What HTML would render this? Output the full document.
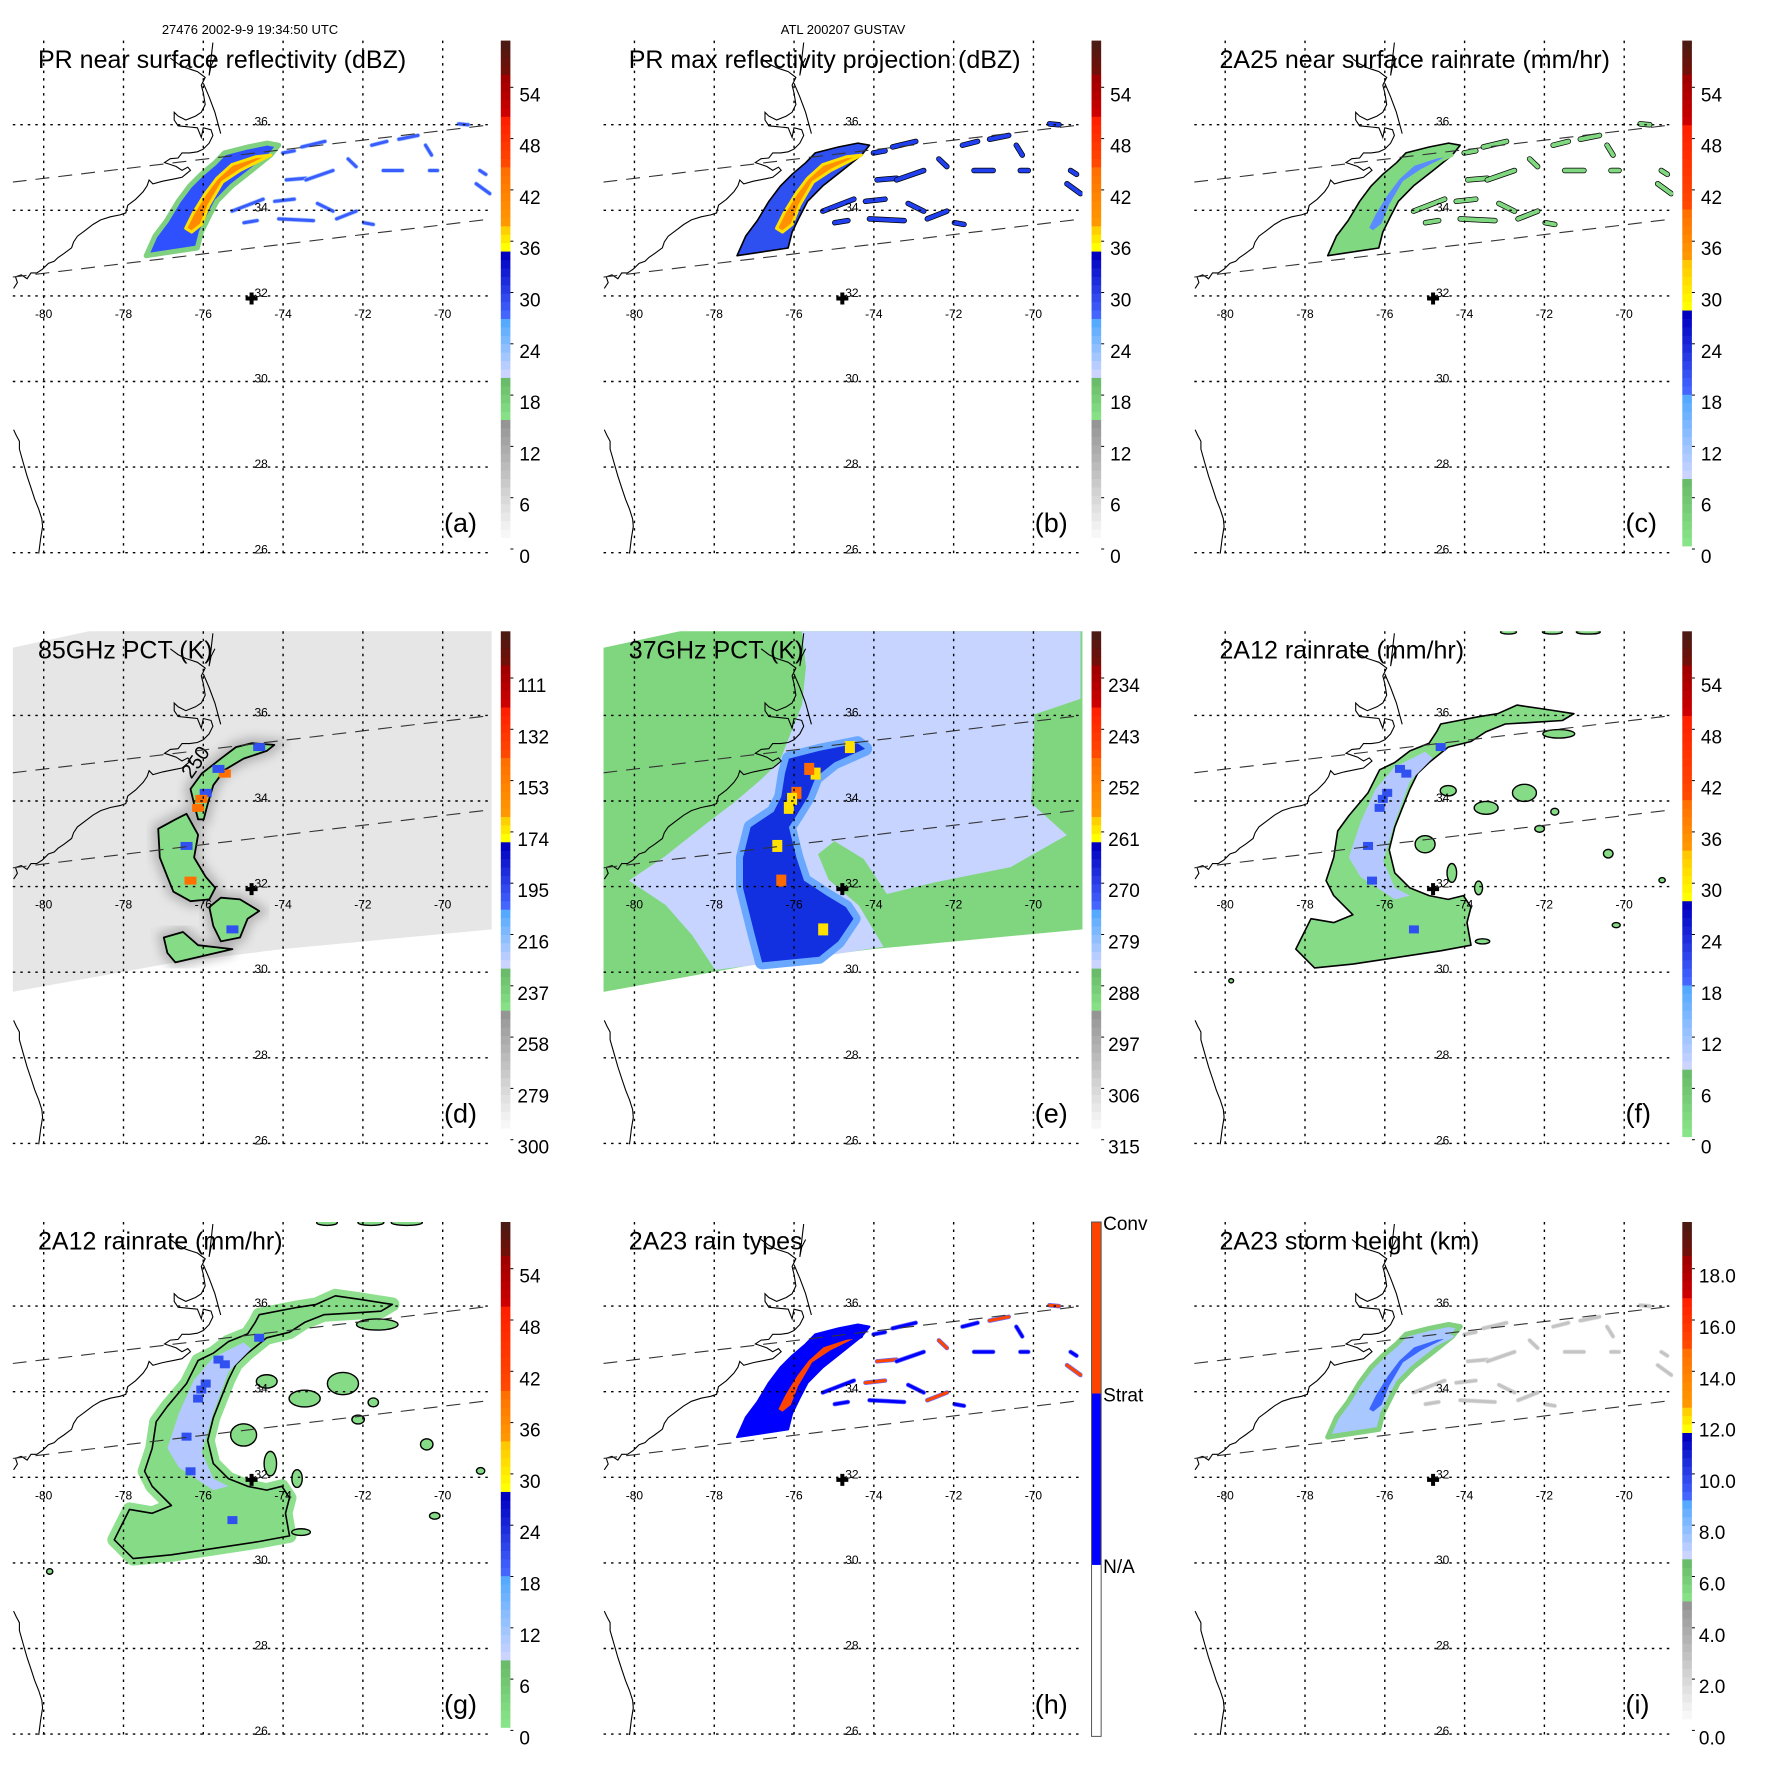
<!DOCTYPE html>
<html><head><meta charset="utf-8"><title>Gustav TRMM overpass</title>
<style>
html,body{margin:0;padding:0;background:#fff;}
svg{display:block;font-family:"Liberation Sans",Arial,sans-serif;}
</style></head>
<body>
<svg id="fig" width="1771" height="1771" viewBox="0 0 1771 1771" xmlns="http://www.w3.org/2000/svg">
<rect x="0" y="0" width="1771" height="1771" fill="#fff"/>
<defs>
<filter id="blur6" x="-20%" y="-20%" width="140%" height="140%"><feGaussianBlur stdDeviation="5"/></filter>
</defs>
<text x="250" y="34" font-size="13" text-anchor="middle">27476 2002-9-9 19:34:50 UTC</text>
<text x="843" y="34" font-size="13" text-anchor="middle">ATL 200207 GUSTAV</text>
</svg>
<script>
// ---------- data ----------
const lonTicks=[-80,-78,-76,-74,-72,-70];
const latTicks=[26,28,30,32,34,36];
const dbzTicks=['0','6','12','18','24','30','36','42','48','54'];
const rainTicks=['0','6','12','18','24','30','36','42','48','54'];
const pct85Ticks=['300','279','258','237','216','195','174','153','132','111'];
const pct37Ticks=['315','306','297','288','279','270','261','252','243','234'];
const heightTicks=['0.0','2.0','4.0','6.0','8.0','10.0','12.0','14.0','16.0','18.0'];
const typeLabels=['N/A','Strat','Conv'];
const stormCenter=[-74.79,31.94];
const prSwathUpper=[[-80.78,34.66],[-68.77,36.0]];
const prSwathLower=[[-80.78,32.44],[-68.77,33.80]];
const prBand=[[-77.43,32.94],[-76.15,33.12],[-76.05,33.49],[-75.86,33.85],[-75.66,34.21],[-75.28,34.57],[-74.79,34.93],[-74.31,35.29],[-74.11,35.52],[-74.40,35.57],[-74.89,35.48],[-75.47,35.34],[-75.71,35.11],[-76.05,34.84],[-76.34,34.57],[-76.63,34.21],[-76.92,33.76],[-77.21,33.40]];
const prCore=[[-76.29,33.49],[-76.05,33.67],[-75.86,34.12],[-75.52,34.66],[-75.08,34.93],[-74.50,35.20],[-74.31,35.29],[-74.69,35.25],[-75.28,35.07],[-75.66,34.75],[-75.95,34.39],[-76.25,33.94],[-76.44,33.58]];
const prStreaks=[[-73.92,34.71,-73.43,34.75],[-73.43,34.71,-72.75,34.93],[-75.28,33.98,-74.50,34.26],[-74.21,34.21,-73.72,34.26],[-73.14,34.16,-72.75,33.98],[-74.11,33.80,-73.24,33.76],[-72.66,33.80,-72.17,33.98],[-71.98,33.71,-71.74,33.67],[-71.78,35.52,-71.40,35.61],[-71.10,35.66,-70.62,35.75],[-70.43,35.52,-70.28,35.29],[-70.33,34.93,-70.13,34.93],[-69.16,34.62,-68.82,34.39],[-73.53,35.48,-72.95,35.61],[-74.01,35.34,-73.72,35.39],[-69.60,36.02,-69.36,36.0],[-69.07,34.93,-68.92,34.84],[-71.49,34.93,-71.01,34.93],[-72.37,35.20,-72.17,35.02],[-74.98,33.71,-74.65,33.76]];
const tmiSwath=[[-80.78,37.58],[-78.2,38.1],[-68.7,38.1],[-68.77,31.0],[-74.03,30.54],[-76.70,30.23],[-80.78,29.54]];
const pct85Bands=[
 [[-74.79,35.35],[-74.22,35.31],[-74.41,35.17],[-74.99,34.99],[-75.46,34.73],[-75.75,34.37],[-75.89,33.93],[-75.99,33.57],[-76.13,33.57],[-76.23,33.93],[-76.32,34.28],[-76.04,34.64],[-75.56,34.99],[-75.18,35.26]],
 [[-77.13,33.35],[-76.70,33.57],[-76.42,33.70],[-76.13,33.21],[-76.23,32.68],[-75.94,32.23],[-75.70,31.97],[-75.85,31.70],[-76.32,31.66],[-76.75,31.88],[-76.90,32.23],[-77.09,32.68]],
 [[-75.85,31.52],[-75.56,31.74],[-75.08,31.70],[-74.60,31.43],[-74.89,31.25],[-75.08,30.81],[-75.56,30.72],[-75.75,31.08]],
 [[-76.99,30.81],[-76.51,30.94],[-76.13,30.63],[-75.27,30.54],[-76.70,30.23],[-76.90,30.45]]];
const pct37Light=[[-75.75,37.93],[-68.87,37.93],[-68.87,36.42],[-70.02,36.06],[-70.11,33.93],[-69.25,33.21],[-70.59,32.50],[-72.50,32.14],[-73.65,31.88],[-74.22,32.68],[-74.99,33.12],[-75.46,32.77],[-75.18,32.14],[-74.41,31.52],[-73.84,30.63],[-75.37,30.41],[-77.95,30.10],[-78.52,30.90],[-79.19,31.61],[-80.05,32.14],[-79.19,32.68],[-78.23,33.39],[-77.47,33.93],[-76.80,34.46],[-76.32,34.90],[-76.13,35.35],[-75.75,36.24],[-75.65,37.13]];
const pct37Cold=[[-76.13,34.99],[-75.37,35.17],[-74.41,35.35],[-74.22,35.22],[-74.99,34.90],[-75.46,34.55],[-75.65,34.10],[-75.94,33.66],[-76.13,33.39],[-75.94,32.68],[-75.75,32.14],[-75.18,31.79],[-74.70,31.52],[-74.51,31.25],[-74.89,30.72],[-75.37,30.36],[-76.80,30.23],[-76.99,30.90],[-77.28,31.97],[-77.28,32.68],[-77.09,33.39],[-76.51,33.75],[-76.32,34.10],[-76.23,34.64]];
const pct37Warm=[[-74.60,35.26],[-75.46,34.64],[-75.94,34.19],[-76.13,33.84],[-76.42,32.95],[-76.32,32.14],[-75.27,31.0],[-76.05,34.05],[-75.62,34.75]];
const tmiRainBand=[[-74.60,35.80],[-73.65,35.97],[-73.17,36.04],[-72.69,36.24],[-72.02,36.15],[-71.26,36.04],[-71.55,35.88],[-72.22,35.84],[-72.98,35.80],[-73.46,35.62],[-73.84,35.39],[-74.41,35.26],[-74.89,34.90],[-75.18,34.64],[-75.37,34.28],[-75.56,33.84],[-75.75,33.39],[-75.89,32.86],[-75.75,32.32],[-75.37,31.97],[-74.89,31.79],[-74.41,31.70],[-74.03,31.79],[-73.84,31.52],[-73.94,31.16],[-73.84,30.63],[-74.60,30.50],[-76.80,30.19],[-77.76,30.10],[-78.23,30.54],[-77.85,31.25],[-77.28,31.16],[-76.80,31.34],[-77.28,31.79],[-77.47,32.14],[-77.28,32.68],[-77.18,33.30],[-76.90,33.66],[-76.42,34.19],[-76.13,34.73],[-75.75,34.90],[-75.37,35.17],[-74.89,35.35],[-74.70,35.62]];
const tmiRainInner=[[-75.75,34.80],[-74.99,35.15],[-74.80,35.0],[-75.37,34.46],[-75.75,33.50],[-76.04,32.60],[-75.75,31.97],[-75.37,31.79],[-75.75,31.70],[-76.61,32.23],[-76.90,32.68],[-76.61,33.50],[-76.23,34.28]];
const tmiRainBlobs=[[-72.50,34.19,0.30,0.20],[-73.46,33.84,0.30,0.15],[-74.99,32.99,0.25,0.20],[-74.41,34.24,0.20,0.12],[-71.64,35.57,0.40,0.10],[-74.32,32.32,0.12,0.22],[-73.65,31.97,0.10,0.16],[-72.12,33.35,0.12,0.08],[-70.40,32.77,0.12,0.10],[-71.74,33.75,0.10,0.08],[-73.55,30.72,0.18,0.06],[-72.90,37.95,0.20,0.05],[-71.80,37.95,0.25,0.05],[-70.90,37.95,0.3,0.05],[-69.05,32.15,0.08,0.06],[-70.20,31.10,0.10,0.06],[-79.85,29.80,0.06,0.05]];

// ---------- geometry helpers ----------
const NS='http://www.w3.org/2000/svg';
const svg=document.getElementById('fig');
function mk(parent,tag,attrs){const e=document.createElementNS(NS,tag);for(const k in attrs)e.setAttribute(k,attrs[k]);parent.appendChild(e);return e;}
const MAP={l:12.8,r:491.7,t:40.6,b:554};
function proj(ox,oy){return{x:lon=>ox+43.7+(lon+80)*39.9,y:lat=>oy+124.7+(36-lat)*42.8};}
function pts(P,arr){return arr.map(p=>P.x(p[0]).toFixed(1)+','+P.y(p[1]).toFixed(1)).join(' ');}
function hex(c){return[parseInt(c.slice(1,3),16),parseInt(c.slice(3,5),16),parseInt(c.slice(5,7),16)];}
function lerp(a,b,t){const A=hex(a),B=hex(b);return 'rgb('+A.map((v,i)=>Math.round(v+(B[i]-v)*t)).join(',')+')';}

const segDbz=[[0,15,'#ffffff','#959595'],[15,20,'#86e086','#6abc6a'],[20,27,'#cad4ff','#55aaff'],[27,35,'#4466ff','#0000c0'],[35,38,'#ffff00','#ffd000'],[38,45,'#ff9800','#ff7000'],[45,51,'#ff4800','#ff2000'],[51,56,'#cc0000','#a00000'],[56,60,'#701008','#4e1a14']];
const segRain=[[0,8,'#88e488','#6abc6a'],[8,18,'#cad4ff','#55aaff'],[18,28,'#4466ff','#0000c0'],[28,34,'#ffff00','#ffc800'],[34,40,'#ff9800','#ff7000'],[40,50,'#ff4800','#ff2000'],[50,56,'#cc0000','#a00000'],[56,60,'#701008','#4e1a14']];

const coast=[[35,745],[45,730],[40,715],[55,710],[70,720],[80,705],[95,705],[110,695],[125,680],[140,675],[150,665],[165,655],[185,640],[190,625],[200,610],[220,595],[240,580],[260,568],[285,560],[310,555],[325,550],[330,530],[350,515],[370,495],[380,480],[385,465],[395,475],[420,468],[450,462],[470,458],[480,450],[492,440],[485,432],[470,440],[455,430],[440,425],[425,420],[440,410],[460,408],[470,395],[490,395],[510,392],[525,385],[540,370],[550,350],[545,335],[525,330],[520,355],[510,330],[490,328],[460,325],[450,310],[450,290],[460,300],[480,310],[505,300],[520,290],[530,270],[525,240],[520,220],[530,200],[510,185],[495,180],[480,175],[460,165],[440,150]];
const coast2=[[525,215],[540,250],[555,290],[570,345]];
const coast3=[[555,150],[545,170],[540,195],[550,110]];
const florida=[[35,1110],[42,1125],[50,1140],[50,1160],[60,1195],[70,1230],[80,1260],[90,1290],[100,1315],[108,1340],[110,1360],[105,1390],[100,1430]];
function cpts(ox,oy,arr){return arr.map(p=>(ox+p[0]/2.583).toFixed(1)+','+(oy+p[1]/2.583).toFixed(1)).join(' ');}

const COLW=590.75, ROWH=590.7;
const panels=[
 {id:'a',c:0,r:0,title:'PR near surface reflectivity (dBZ)',cb:'dbz'},
 {id:'b',c:1,r:0,title:'PR max reflectivity projection (dBZ)',cb:'dbz'},
 {id:'c',c:2,r:0,title:'2A25 near surface rainrate (mm/hr)',cb:'rain'},
 {id:'d',c:0,r:1,title:'85GHz PCT (K)',cb:'p85'},
 {id:'e',c:1,r:1,title:'37GHz PCT (K)',cb:'p37'},
 {id:'f',c:2,r:1,title:'2A12 rainrate (mm/hr)',cb:'rain'},
 {id:'g',c:0,r:2,title:'2A12 rainrate (mm/hr)',cb:'rain'},
 {id:'h',c:1,r:2,title:'2A23 rain types',cb:'type'},
 {id:'i',c:2,r:2,title:'2A23 storm height (km)',cb:'height'}];

function drawPR(g,P,style){
  const S={
    a:{edge:'#7fd07f',edgeW:5,fill:'#2f50ff',core:'#ff8a00',coreS:'#ffe000',st:'#3a5cff',stOut:'#a8c8ff'},
    b:{edge:'#000',edgeW:1.6,fill:'#2f50f0',core:'#ff9000',coreS:'#ffe000',st:'#2040f0',stOut:'#000'},
    c:{edge:'#000',edgeW:1.6,fill:'#80d880',core:'#5a8cff',coreS:'#80d880',st:'#80d880',stOut:'#000'},
    h:{edge:'#0000ff',edgeW:2,fill:'#0000ff',core:'#ff4400',coreS:'#0000ff',st:'#0000ff',stOut:'#6a6aff'},
    i:{edge:'#80d080',edgeW:5,fill:'#a8c8ff',core:'#3a66ff',coreS:'#a8c8ff',st:'#c4c4c4',stOut:'#e0e0e0'}}[style];
  const e1=mk(g,'polygon',{points:pts(P,prBand),fill:S.fill,stroke:S.edge,'stroke-width':S.edgeW,'stroke-linejoin':'round'});
  
  
  const e2=mk(g,'polygon',{points:pts(P,prCore),fill:S.core,stroke:S.coreS,'stroke-width':3,'stroke-linejoin':'round'});
  
  
  prStreaks.forEach((s,k)=>{
    const w=(style==='b'||style==='c')?4:3;
    const o=mk(g,'line',{x1:P.x(s[0]),y1:P.y(s[1]),x2:P.x(s[2]),y2:P.y(s[3]),stroke:S.stOut,'stroke-width':w+1.5,'stroke-linecap':'round'});
    
    
    let col=S.st;
    if(style==='h'&&k%3===0)col='#ff4400';
    const l=mk(g,'line',{x1:P.x(s[0]),y1:P.y(s[1]),x2:P.x(s[2]),y2:P.y(s[3]),stroke:col,'stroke-width':w,'stroke-linecap':'round'});
    
    
  });
}

function drawTMIrain(g,P,extra){
  if(extra){
    const halo=mk(g,'polygon',{points:pts(P,tmiRainBand),fill:'#8ee08e',stroke:'#8ee08e','stroke-width':14,'stroke-linejoin':'round'});
    
    
  }
  const b=mk(g,'polygon',{points:pts(P,tmiRainBand),fill:'#86dc86',stroke:'#000','stroke-width':1.6,'stroke-linejoin':'round'});
  
  
  const inn=mk(g,'polygon',{points:pts(P,tmiRainInner),fill:'#b4c8ff'});
  
  
  pct37Warm.forEach(p=>{
    const c=mk(g,'rect',{x:P.x(p[0])-5,y:P.y(p[1])-4,width:10,height:8,fill:'#3050f0'});
    
    
  });
  tmiRainBlobs.forEach(bl=>{
    const sc=extra?1.3:1;
    const e=mk(g,'ellipse',{cx:P.x(bl[0]),cy:P.y(bl[1]),rx:bl[2]*39.9*sc,ry:bl[3]*42.8*sc,fill:'#86dc86',stroke:'#000','stroke-width':1.4});
    
    
  });
}

panels.forEach(pn=>{
  const ox=pn.c*COLW, oy=pn.r*ROWH;
  const P=proj(ox,oy);
  const g=mk(svg,'g',{});
  
  
  const cp=mk(svg,'clipPath',{id:'clip'+pn.id});
  mk(cp,'rect',{x:ox+MAP.l,y:oy+MAP.t,width:MAP.r-MAP.l,height:MAP.b-MAP.t});
  const m=mk(g,'g',{'clip-path':'url(#clip'+pn.id+')'});
  
  

  if(pn.id==='d'){
    const sw=mk(m,'polygon',{points:pts(P,tmiSwath),fill:'#e6e6e6'});
    
    
    pct85Bands.forEach(b=>{
      const h=mk(m,'polygon',{points:pts(P,b),fill:'#888',stroke:'#888','stroke-width':12,opacity:0.5,filter:'url(#blur6)'});
      
      
    });
    pct85Bands.forEach(b=>{
      const q=mk(m,'polygon',{points:pts(P,b),fill:'#86dc86',stroke:'#000','stroke-width':1.8,'stroke-linejoin':'round'});
      
      
    });
    pct37Warm.forEach((p,k)=>{
      const c=mk(m,'rect',{x:P.x(p[0])-6,y:P.y(p[1])-4,width:12,height:8,fill:k%2?'#ff7000':'#3050f0'});
      
      
    });
    const t=mk(m,'text',{x:P.x(-76.3),y:P.y(34.5),'font-size':20,transform:'rotate(-55 '+P.x(-76.3)+' '+P.y(34.5)+')'});
    t.textContent='250';
    
    
  }
  if(pn.id==='e'){
    const sw=mk(m,'polygon',{points:pts(P,tmiSwath),fill:'#7fd67f'});
    
    
    const lb=mk(m,'polygon',{points:pts(P,pct37Light),fill:'#c6d4ff',stroke:'#c6d4ff','stroke-width':4});
    
    
    const cb=mk(m,'polygon',{points:pts(P,pct37Cold),fill:'#1230e0',stroke:'#6aa8ff','stroke-width':14,'stroke-linejoin':'round'});
    
    
    const cb2=mk(m,'polygon',{points:pts(P,pct37Cold),fill:'#1230e0'});
    
    
    pct37Warm.forEach((p,k)=>{
      const c=mk(m,'rect',{x:P.x(p[0])-5,y:P.y(p[1])-6,width:10,height:12,fill:k%3===2?'#ff6a00':'#ffe000'});
      
      
    });
  }
  if(pn.id==='f') drawTMIrain(m,P,false);
  if(pn.id==='g') drawTMIrain(m,P,true);
  if('abchi'.includes(pn.id)) drawPR(m,P,pn.id);

  [coast,coast2,coast3,florida].forEach(cl=>{
    const c=mk(m,'polyline',{points:cpts(ox,oy,cl),fill:'none',stroke:'#000','stroke-width':1.1});
    
    
  });
  [prSwathUpper,prSwathLower].forEach(sl=>{
    const l=mk(m,'polyline',{points:pts(P,sl),fill:'none',stroke:'#333','stroke-width':1.1,'stroke-dasharray':'14 9'});
    
    
  });
  lonTicks.forEach(lon=>{
    const l=mk(g,'line',{x1:P.x(lon),x2:P.x(lon),y1:oy+MAP.t,y2:oy+MAP.b,stroke:'#000','stroke-width':1.4,'stroke-dasharray':'2.5 5'});
    
    
    const t=mk(g,'text',{x:P.x(lon),y:P.y(32)+22,'font-size':12,'text-anchor':'middle'});
    t.textContent=String(lon);
    
    
  });
  latTicks.forEach(lat=>{
    const l=mk(g,'line',{x1:ox+MAP.l,x2:ox+MAP.r,y1:P.y(lat),y2:P.y(lat),stroke:'#000','stroke-width':1.4,'stroke-dasharray':'2.5 5'});
    
    
    const t=mk(g,'text',{x:P.x(-74.55),y:P.y(lat)+1,'font-size':12,'text-anchor':'middle'});
    t.textContent=String(lat);
    
    
  });
  const cx=P.x(stormCenter[0]), cy=P.y(stormCenter[1]);
  const cr=mk(g,'path',{d:'M'+(cx-6)+' '+cy+'H'+(cx+6)+'M'+cx+' '+(cy-6)+'V'+(cy+6),stroke:'#000','stroke-width':4});
  
  
  const tt=mk(g,'text',{x:ox+38,y:oy+68,'font-size':25});
  tt.textContent=pn.title;
  
  
  const tl=mk(g,'text',{x:ox+444,y:oy+532,'font-size':27});
  tl.textContent='('+pn.id+')';
  
  

  const bx=ox+500.8, bw=9.6, bt=oy+40.6, bb=oy+546;
  const cbg=mk(g,'g',{});
  
  
  if(pn.cb==='type'){
    const h3=(bb+9-bt)/3;
    ['#ffffff','#0000ff','#ff4400'].forEach((c,k)=>{
      const r=mk(cbg,'rect',{x:bx,y:bb+9-(k+1)*h3,width:bw,height:h3,fill:c});
      
      
    });
    mk(cbg,'rect',{x:bx,y:bt,width:bw,height:bb+9-bt,fill:'none',stroke:'#555','stroke-width':1});
    typeLabels.forEach((s,k)=>{
      const t=mk(cbg,'text',{x:bx+bw+2,y:bb+9-(k+1)*h3+8,'font-size':19});
      t.textContent=s;
      
      
    });
  } else {
    const segs=(pn.cb==='rain')?segRain:segDbz;
    const u=(bb-bt)/60;
    segs.forEach(s=>{
      for(let v=s[0];v<s[1];v++){
        const t=(s[1]-s[0]>1)?(v-s[0])/(s[1]-s[0]-1):0;
        const r=mk(cbg,'rect',{x:bx,y:bb-(v+1)*u,width:bw,height:u+0.4,fill:lerp(s[2],s[3],t)});
        
        
      }
    });
    const labs={dbz:dbzTicks,rain:rainTicks,p85:pct85Ticks,p37:pct37Ticks,height:heightTicks}[pn.cb];
    labs.forEach((s,k)=>{
      const y=oy+556-k*51.3;
      mk(cbg,'line',{x1:bx+bw,x2:bx+bw+3,y1:y-7,y2:y-7,stroke:'#000','stroke-width':1});
      const t=mk(cbg,'text',{x:bx+bw+(s.length>2?7:9),y:y+7,'font-size':19});
      t.textContent=s;
      
      
    });
  }
});
</script>
</body></html>
